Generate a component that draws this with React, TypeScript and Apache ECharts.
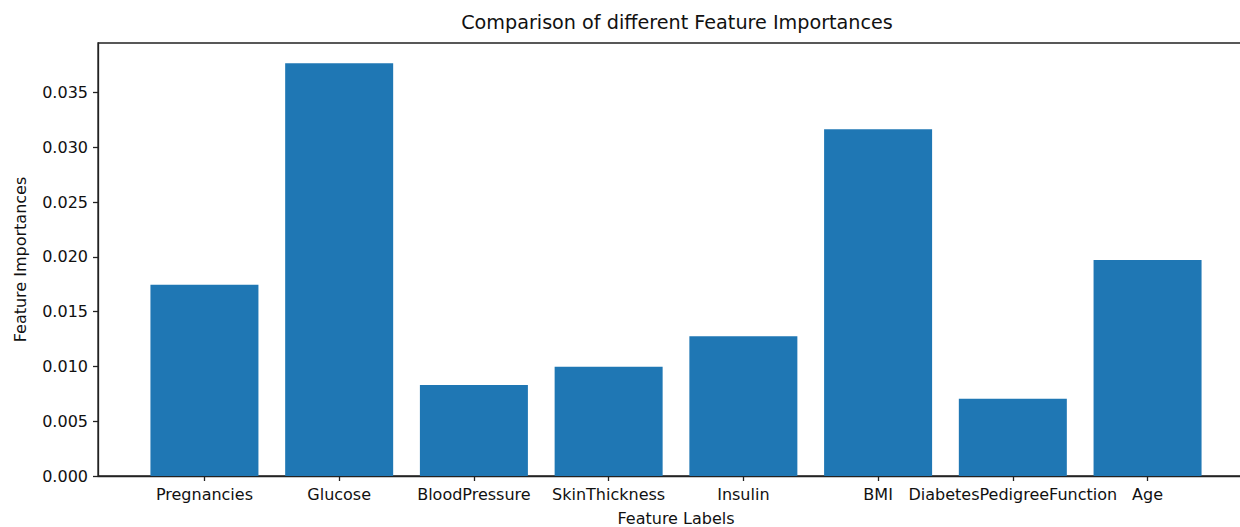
import React, { useEffect, useRef } from "react";
import * as echarts from "echarts";

const categories = [
  "Pregnancies",
  "Glucose",
  "BloodPressure",
  "SkinThickness",
  "Insulin",
  "BMI",
  "DiabetesPedigreeFunction",
  "Age",
];
const importances = [0.01747, 0.03768, 0.00831, 0.00998, 0.01276, 0.03166, 0.00706, 0.01972];
const yTicks = [0, 0.005, 0.01, 0.015, 0.02, 0.025, 0.03, 0.035];
const xTicks = [0, 1, 2, 3, 4, 5, 6, 7];

const FONT = "DejaVu Sans";

export default function App() {
  const ref = useRef<HTMLDivElement>(null);
  useEffect(() => {
    if (!ref.current) return;
    const chart = echarts.init(ref.current, null, { renderer: "svg" });
    chart.setOption({
      animation: false,
      backgroundColor: "#fff",
      textStyle: { fontFamily: FONT },
      grid: {
        left: 98,
        top: 43,
        bottom: 51,
        right: -14,
        containLabel: false,
        outerBoundsMode: "none",
        show: true,
        borderColor: "#222",
        borderWidth: 1.3,
        backgroundColor: "transparent",
      },
      graphic: [
        {
          type: "text",
          x: 677,
          y: 22,
          style: {
            text: "Comparison of different Feature Importances",
            font: `19.2px ${FONT}`,
            fill: "#111",
            textAlign: "center",
            textVerticalAlign: "middle",
          },
        },
      ],
      xAxis: {
        type: "value",
        min: -0.79,
        max: 7.79,
        name: "Feature Labels",
        nameLocation: "middle",
        nameGap: 34,
        nameTextStyle: { fontFamily: FONT, fontSize: 16, color: "#111" },
        splitLine: { show: false },
        axisLine: { show: true, onZero: false, lineStyle: { color: "#222", width: 1.3 } },
        axisTick: {
          show: true,
          length: 5,
          lineStyle: { color: "#222", width: 1.3 },
          customValues: xTicks,
        },
        axisLabel: {
          customValues: xTicks,
          margin: 10,
          fontFamily: FONT,
          fontSize: 16,
          color: "#111",
          formatter: (v: number) => categories[Math.round(v)] ?? "",
        },
      },
      yAxis: {
        type: "value",
        min: 0,
        max: 0.03954,
        name: "Feature Importances",
        nameLocation: "middle",
        nameGap: 70,
        nameTextStyle: { fontFamily: FONT, fontSize: 16, color: "#111" },
        splitLine: { show: false },
        axisLine: { show: true, onZero: false, lineStyle: { color: "#222", width: 1.3 } },
        axisTick: {
          show: true,
          length: 5,
          lineStyle: { color: "#222", width: 1.3 },
          customValues: yTicks,
        },
        axisLabel: {
          customValues: yTicks,
          margin: 10,
          fontFamily: FONT,
          fontSize: 16,
          color: "#111",
          formatter: (v: number) => v.toFixed(3),
        },
      },
      series: [
        {
          type: "bar",
          barWidth: 108,
          itemStyle: { color: "#1f77b4" },
          data: importances.map((v, i) => [i, v]),
        },
      ],
    });
    return () => chart.dispose();
  }, []);
  return (
    <div
      ref={ref}
      style={{ position: "fixed", left: 0, top: 0, width: 1240, height: 527 }}
    />
  );
}
